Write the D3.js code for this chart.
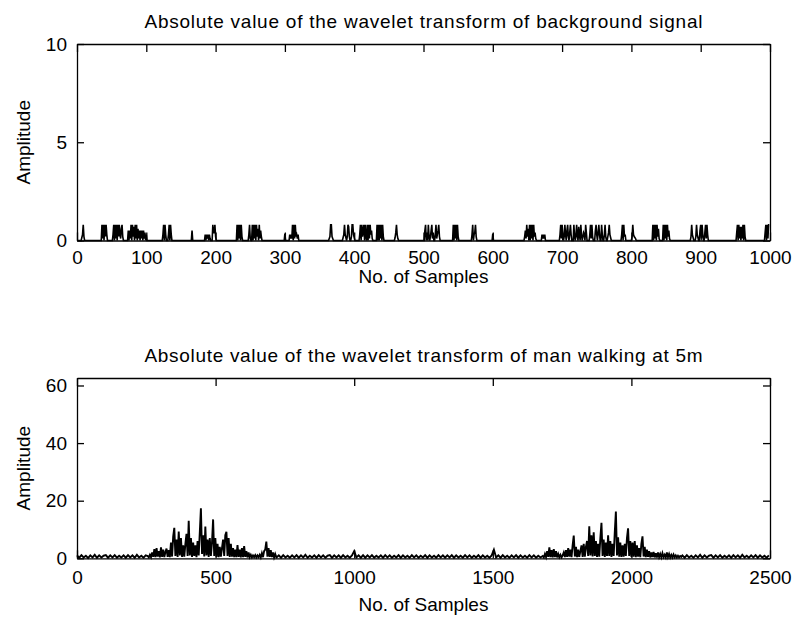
<!DOCTYPE html>
<html>
<head>
<meta charset="utf-8">
<script src="https://cdn.jsdelivr.net/npm/d3@7"></script>
<style>
  html, body { margin: 0; padding: 0; background: #fff; }
  svg { display: block; }
  text { font-family: "Liberation Sans", Arial, Helvetica, sans-serif; fill: #000; }
</style>
</head>
<body>
<svg id="chart" width="795" height="621"></svg>
<script>
// ---------------- data ----------------
// Background signal: 1000 samples, zero everywhere except these [sample, |W|] entries.
const bgLength = 1000;
const bgSpikes = [
  [7,.15],[8,.3],[9,.8],[10,.2],
  [36,.8],[37,.1],[38,.8],[39,0],[40,.8],[41,.2],[42,.8],[43,.3],
  [52,.3],[53,.8],[54,0],[55,.8],[56,.1],[57,.8],[58,0],[59,.8],[60,.2],[61,.8],[62,.3],[63,.1],[64,.6],[65,.8],[66,.2],
  [74,.5],[75,0],[76,.5],[77,.1],[78,.8],[79,0],[80,.8],[81,.2],[82,.7],[83,0],[84,.8],[85,.1],[86,.8],[87,0],
  [88,.6],[89,.1],[90,.5],[91,0],[92,.5],[93,.1],[94,.5],[95,0],[96,.5],[97,.1],[98,.4],[99,0],[100,.3],
  [124,.3],[125,.8],[126,0],[127,.8],[128,.3],[132,.3],[133,.8],[134,0],[135,.8],[136,.3],
  [166,.5],
  [185,.3],[186,0],[187,.3],[188,.1],[189,.3],[190,0],[191,.3],[192,.1],
  [196,.8],[197,.4],[198,.4],[199,.8],[200,.2],
  [231,.8],[232,0],[233,.8],[234,.1],[235,.8],[236,0],[237,.8],[238,.2],
  [248,.3],[249,.8],[250,.1],[253,.8],[254,0],[255,.8],[256,.1],[257,.8],[258,0],[259,.8],[260,.2],
  [261,.6],[262,0],[263,.8],[264,.1],[265,.5],[266,.2],
  [300,.35],
  [307,.3],[308,.1],[309,.3],[310,.1],[311,.8],[312,0],[313,.8],[314,.1],[315,.8],[316,.2],[317,.3],[318,.1],[319,.3],
  [364,.1],[365,.2],[366,.8],[367,.8],[368,.2],[369,.1],
  [384,.15],[385,.3],[386,.8],[387,.3],[388,.15],[390,.2],[391,.8],[392,.7],[393,.2],
  [396,.2],[397,.8],[398,.8],[399,.3],[400,.15],
  [408,.3],[409,.8],[410,0],[411,.8],[412,.2],[413,.5],[414,.8],[415,0],[416,.8],[417,.2],
  [419,.8],[420,0],[421,.8],[422,.1],[423,.8],[424,.3],[425,.5],[426,.1],
  [433,.8],[434,0],[435,.8],[436,0],[437,.8],[438,.1],[439,.8],[440,0],[441,.8],[442,.2],
  [459,.15],[460,.4],[461,.8],[462,.3],[463,.1],
  [502,.5],[503,.8],[504,0],[505,.4],[507,.8],[508,.2],[510,.2],[511,.5],[512,.8],[513,.1],[514,.4],
  [517,.3],[518,.8],[519,.1],[520,.3],[521,.5],[522,.8],[523,.2],
  [543,.8],[544,0],[545,.8],[546,.1],[547,.8],[548,0],[549,.8],[550,.2],
  [570,.3],[571,.8],[572,0],[573,.3],[574,.4],[575,.8],[576,.2],
  [600,.35],
  [646,.2],[647,.5],[648,.1],[649,.8],[650,.2],[651,.6],[652,0],[653,.8],[654,0],[655,.8],[656,.1],
  [657,.8],[658,0],[659,.8],[660,.2],[661,.4],[662,.1],
  [671,.3],[672,.1],[673,.3],[674,.1],[675,.3],
  [697,.3],[698,.8],[699,.1],[700,.8],[701,.3],[703,.2],[704,.8],[705,.3],[707,.5],[708,.8],[709,.2],
  [711,.4],[712,.8],[713,.3],
  [717,.8],[718,.2],[720,.3],[721,.8],[722,.2],[724,.7],[725,.3],[727,.8],[728,.3],[730,.2],[731,.4],
  [732,.3],[734,.8],[735,.4],
  [740,.3],[741,.8],[742,.1],[743,.8],[744,.2],[748,.5],[749,.8],[750,.3],[752,.4],[753,.8],[754,.3],
  [757,.8],[758,.3],[761,.3],[762,.8],[763,.2],[766,.2],[767,.4],[768,.8],[769,.3],[770,.15],
  [786,.3],[787,.8],[788,0],[789,.8],[790,.2],[791,.3],
  [801,.2],[802,.8],[803,.3],[804,.2],[805,.15],[806,.1],
  [831,.8],[832,0],[833,.8],[834,.1],[835,.8],[836,0],[837,.8],[838,.2],[839,.6],[840,.1],
  [846,.8],[847,0],[848,.8],[849,.1],[850,.8],[851,0],[852,.8],[853,.2],[854,.5],[855,.1],
  [886,.2],[887,.8],[888,.3],[889,.15],[893,.2],[894,.8],[895,.3],[896,.15],
  [899,.5],[900,.8],[901,.1],[902,.8],[903,.3],[906,.4],[907,.8],[908,.1],[909,.8],[910,.3],
  [952,.4],[953,.8],[954,0],[955,.8],[956,.1],[957,.7],[958,0],[959,.7],[960,.1],[961,.8],[962,0],[963,.8],[964,.2],
  [993,.4],[994,.8],[995,0],[996,.8],[997,.1],[998,.8],[999,.8]
];

// Man walking at 5 m: 2500 samples, stored as segments (first sample, sample spacing, values).
const walkQuietA = [ // samples 0..248, every 8
  1,.2,1.1,.3,.9,.1,1,.3,1.2,.2,1,.3,.9,1.1,.2,1,.3,1.1,.2,.9,.3,1,.2,1.1,.3,1,.2,1.2,.3,.9,.2,1
];
const walkStepA = [ // samples 255..719, every 4 (first footstep)
  .8,.3,1.2,.4,2,.5,3.2,.4,3.5,.6,
  2.5,.3,3.8,.5,3,.4,2.2,3.4,.5,2.8,
  .4,5.5,.6,7.5,10.6,.8,6.5,.5,9.3,1,
  7,.5,4.5,.6,5,8.5,.8,13,1,7,
  .5,5.5,.8,4.5,.4,6,1,9,17.4,1.5,
  8,.6,11,1,6.5,.5,7,.8,5.5,13.5,
  .8,7,.5,5,.4,4,.6,3.5,6.5,.8,
  8,9.2,.8,7,.5,5,.6,3.5,.4,3,
  .4,4.6,.5,3,.3,3.5,.4,4.2,.5,2.5,
  .3,2,.4,1.2,.3,1,.4,1.1,.3,1,
  .4,1.2,.3,1.8,.4,2.5,3,5.8,.6,3.5,
  .5,2.8,.4,2,.3,1.5,.4
];
const walkQuietB = [ // samples 720..1672, every 8
  .3,1,.2,1.1,.3,.9,.2,1,.3,1.1,
  .2,1,.3,1.2,.2,.9,.3,1,.2,1.1,
  .3,1,.2,.9,1.1,.2,1,.3,1,.2,
  1.1,.3,.9,.2,1,2.5,.3,1,.2,1.1,
  .2,1,.3,1.1,.2,.9,.3,1,.2,1.1,
  .3,1,.2,.9,.3,1.1,.2,1,.3,.9,
  .2,1.1,.3,1,.2,.9,.3,1.1,.2,1,
  .3,.9,.2,1.1,.3,1,.2,1,.3,1.1,
  .2,1,.3,.9,.2,1.1,.3,1,.2,.9,
  .3,1.1,.2,1,.3,.9,.2,1,3,.3,
  1,.2,1.1,.3,.9,.2,1,.3,1.1,.2,
  1,.3,.9,.2,1.1,.3,1,.2,.9,.3
];
const walkStepB = [ // samples 1680..2180, every 4 (second footstep)
  .8,.3,1.5,.4,2.5,.5,3.8,.4,2.8,.3,
  3.2,.4,2.5,.3,1.5,.4,1.2,.3,1,2,
  .4,2.8,.5,3.5,.6,3,.4,4.5,7.9,.6,
  4,.4,3,.5,2.5,4.5,.5,5,.6,4,
  6,.8,11.1,1,8,.6,9,.8,6,.5,
  5,.6,7,12.3,.8,6.5,.5,5.5,.8,8,
  .8,6,.5,5,.8,9,16.2,1,7.3,.6,
  5.5,.5,4.5,.6,5,.8,7,10.4,.8,6,
  .5,5.5,.6,6,.4,4.5,.6,3.5,.4,5,
  7.6,.6,4,.4,3,.5,2.5,.3,2,.4,
  2.2,.3,1.8,.3,2,.4,1.5,.3,1.8,.4,
  1.2,.3,2,.4,1.5,.3,1.2,.3,1.3,.4,
  1,.3,.9,.3,.8,.5
];
const walkQuietC = [ // samples 2184..2496, every 8
  1,.2,1.1,.3,.9,.2,1,.3,1.2,.2,
  1,.3,.9,1.1,.2,1,.3,1.1,.2,.9,
  .3,1,.2,1.1,.3,1,.2,1.2,.3,.9,
  .2,1,.3,1.1,.2,1,.3,.9,.2,1
];
const walkSegments = [
  [0, 8, walkQuietA],
  [255, 4, walkStepA],
  [720, 8, walkQuietB],
  [1680, 4, walkStepB],
  [2184, 8, walkQuietC]
];

const bgTicksX = [0,100,200,300,400,500,600,700,800,900,1000];
const bgTicksY = [0,5,10];
const walkTicksX = [0,500,1000,1500,2000,2500];
const walkTicksY = [0,20,40,60];

const titleBg = "Absolute value of the wavelet transform of background signal";
const titleWalk = "Absolute value of the wavelet transform of man walking at 5m";
const xLabel = "No. of Samples";
const yLabel = "Amplitude";

// ---------------- series ----------------
const bgMap = new Map(bgSpikes);
const bgSeries = d3.range(bgLength).map(i => [i, bgMap.has(i) ? bgMap.get(i) : 0]);

const walkSeries = [];
walkSegments.forEach(([start, step, vals]) => {
  vals.forEach((v, k) => walkSeries.push([start + k * step, v]));
});

// ---------------- drawing ----------------
const svg = d3.select("#chart");
const FONT = 19;
const left = 77, right = 770;

function panel(o) {
  const x = d3.scaleLinear().domain(o.xDomain).range([left, right]);
  const y = d3.scaleLinear().domain(o.yDomain).range([o.bottom, o.top]);
  const g = svg.append("g");

  g.append("path")
    .datum(o.series)
    .attr("fill", "none")
    .attr("stroke", "#000")
    .attr("stroke-width", o.lineWidth)
    .attr("stroke-linejoin", "miter")
    .attr("d", d3.line().x(d => x(d[0])).y(d => y(d[1])));

  const styleAxis = sel => {
    sel.attr("font-size", null).attr("font-family", null);
    sel.selectAll("path.domain").attr("stroke", "#000").attr("stroke-width", 1.3);
    sel.selectAll(".tick line").attr("stroke", "#000").attr("stroke-width", 1.3);
    sel.selectAll("text").style("font-size", FONT + "px");
  };

  g.append("g").attr("transform", `translate(0,${o.bottom})`)
    .call(d3.axisBottom(x).tickValues(o.xTicks).tickSizeInner(-8).tickSizeOuter(0)
      .tickPadding(o.xPad).tickFormat(d3.format("d")))
    .call(styleAxis);
  g.append("g").attr("transform", `translate(0,${o.top})`)
    .call(d3.axisTop(x).tickValues(o.xTicks).tickSizeInner(-8).tickSizeOuter(0).tickFormat(() => ""))
    .call(styleAxis);
  g.append("g").attr("transform", `translate(${left},0)`)
    .call(d3.axisLeft(y).tickValues(o.yTicks).tickSizeInner(-7).tickSizeOuter(0)
      .tickPadding(10).tickFormat(d3.format("d")))
    .call(styleAxis);
  g.append("g").attr("transform", `translate(${right},0)`)
    .call(d3.axisRight(y).tickValues(o.yTicks).tickSizeInner(-7).tickSizeOuter(0).tickFormat(() => ""))
    .call(styleAxis);

  const cx = (left + right) / 2;
  g.append("text")
    .attr("x", cx).attr("y", o.titleY)
    .attr("text-anchor", "middle")
    .attr("textLength", 558).attr("lengthAdjust", "spacing")
    .style("font-size", FONT + "px")
    .text(o.title);
  g.append("text")
    .attr("x", cx).attr("y", o.xLabelY)
    .attr("text-anchor", "middle")
    .style("font-size", FONT + "px")
    .text(xLabel);
  g.append("text")
    .attr("transform", `translate(30,${(o.top + o.bottom) / 2}) rotate(-90)`)
    .attr("text-anchor", "middle")
    .style("font-size", FONT + "px")
    .text(yLabel);
}

panel({
  series: bgSeries, xDomain: [0, 1000], yDomain: [0, 10],
  top: 44, bottom: 240.5, xTicks: bgTicksX, yTicks: bgTicksY, lineWidth: 1.6,
  xPad: 10, title: titleBg, titleY: 28, xLabelY: 283
});
panel({
  series: walkSeries, xDomain: [0, 2500], yDomain: [0, 62.6],
  top: 378, bottom: 558.3, xTicks: walkTicksX, yTicks: walkTicksY, lineWidth: 1.9,
  xPad: 12, title: titleWalk, titleY: 362, xLabelY: 611
});
</script>
</body>
</html>
